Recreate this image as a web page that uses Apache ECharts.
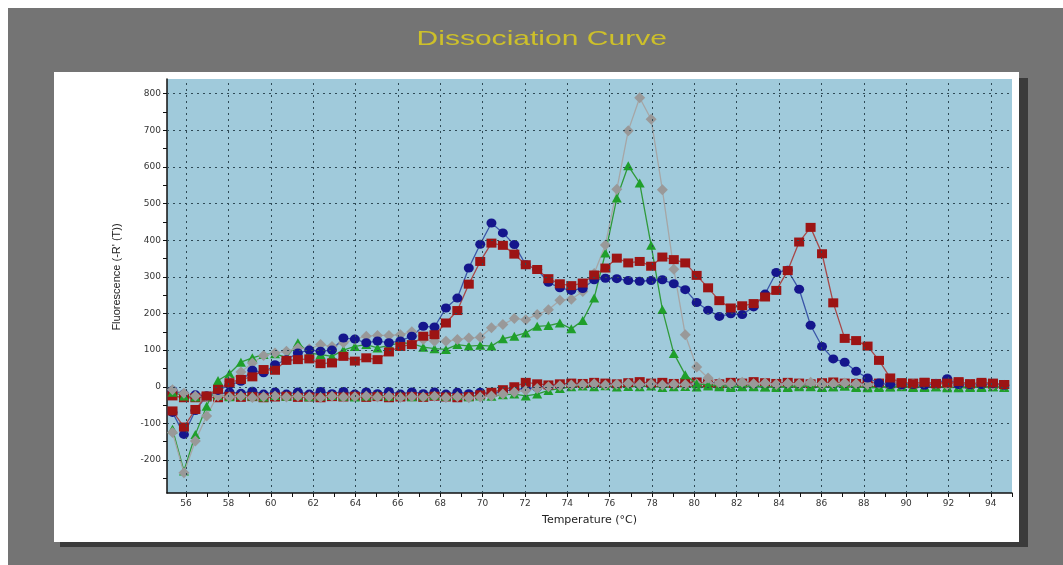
<!DOCTYPE html>
<html>
<head>
<meta charset="utf-8">
<script src="https://cdn.jsdelivr.net/npm/echarts@6/dist/echarts.min.js"></script>
<style>
html,body{margin:0;padding:0;background:#ffffff;}
#chart{width:1063px;height:565px;}
</style>
</head>
<body>
<div id="chart"></div>
<script>
// Temperatures (°C) of each reading
const temps = [55.36,55.90,56.44,56.97,57.51,58.05,58.59,59.13,59.66,60.20,
  60.74,61.28,61.82,62.35,62.89,63.43,63.97,64.51,65.04,65.58,
  66.12,66.66,67.20,67.73,68.27,68.81,69.35,69.89,70.42,70.96,
  71.50,72.04,72.58,73.11,73.65,74.19,74.73,75.27,75.80,76.34,
  76.88,77.42,77.96,78.49,79.03,79.57,80.11,80.65,81.18,81.72,
  82.26,82.80,83.34,83.87,84.41,84.95,85.49,86.03,86.56,87.10,
  87.64,88.18,88.72,89.25,89.79,90.33,90.87,91.41,91.94,92.48,
  93.02,93.56,94.10,94.63];

// Sample curves, -R'(T)
const blueSample = [-70,-130,-65,-25,-10,5,15,45,38,60,
  74,92,100,97,100,133,130,120,125,120,
  125,138,165,163,215,242,324,389,447,420,
  388,333,320,285,270,263,268,292,296,295,
  290,288,290,292,281,265,230,209,192,199,
  197,218,253,312,318,266,168,110,76,67,
  42,24,10,6,5,6,4,8,22,6,
  5,6,8,4];
const redSample = [-66,-110,-62,-25,-7,11,20,27,47,45,
  72,74,76,63,65,83,70,79,74,95,
  110,115,138,142,174,208,280,342,392,386,
  362,333,320,295,281,276,283,305,324,351,
  338,342,329,354,347,338,304,270,235,215,
  221,227,245,263,317,395,435,363,229,132,
  126,111,72,24,10,8,12,8,10,14,
  8,12,10,6];
const greenSample = [-116,-230,-130,-53,17,36,67,79,88,90,
  80,120,92,88,83,100,110,115,106,113,
  120,118,108,104,102,115,111,113,111,131,
  138,147,165,167,174,158,181,242,365,515,
  603,556,386,211,91,33,8,5,3,2,
  0,2,0,-2,0,3,0,-2,0,2,
  0,-3,-2,0,2,0,-2,0,0,-3,
  -2,0,0,-2];
const graySample = [-125,-235,-148,-80,-21,15,40,65,85,92,
  97,106,103,115,110,120,129,138,140,140,
  142,150,129,124,124,129,133,135,161,170,
  186,183,197,210,236,239,260,309,387,539,
  699,789,730,538,321,142,54,24,10,8,
  12,8,10,6,9,8,12,6,8,10,
  8,6,9,8,5,8,6,8,5,7,
  6,8,5,4];

// Flat (baseline) curves
const blueBase = [-10,-20,-22,-25,-20,-15,-18,-12,-20,-14,
  -20,-14,-20,-13,-19,-13,-20,-14,-19,-13,
  -20,-14,-19,-14,-20,-15,-19,-15,-20,-12,
  -8,-5,-2,2,4,6,8,6,9,7,
  10,8,6,9,7,10,8,12,9,7,
  8,6,9,8,10,7,9,8,6,8,
  10,7,9,8,6,8,7,9,10,7,
  6,8,7,5];
const redBase = [-25,-30,-30,-28,-30,-26,-29,-27,-30,-28,
  -26,-29,-28,-30,-27,-28,-26,-29,-27,-30,
  -28,-27,-29,-26,-28,-30,-27,-22,-15,-8,
  0,12,8,5,8,10,9,12,10,8,
  11,14,10,12,9,11,13,10,8,12,
  10,14,11,9,12,10,8,11,13,10,
  9,12,10,8,11,10,12,9,13,10,
  8,9,7,6];
const greenBase = [-15,-25,-28,-26,-24,-27,-23,-25,-28,-24,
  -26,-23,-27,-25,-24,-26,-28,-25,-23,-26,
  -24,-27,-25,-23,-26,-24,-27,-25,-26,-22,
  -20,-25,-20,-10,-5,0,2,0,3,-1,
  1,0,2,-2,0,1,-1,2,0,-2,
  1,0,-1,2,-2,0,1,-1,0,2,
  -2,0,1,-1,0,-2,1,0,-3,-1,
  0,-2,0,-1];
const grayBase = [-8,-18,-25,-28,-25,-28,-26,-29,-27,-25,
  -28,-26,-27,-29,-26,-28,-27,-25,-28,-26,
  -29,-27,-28,-26,-29,-27,-30,-28,-25,-20,
  -15,-10,-5,0,3,5,6,8,5,7,
  9,6,8,5,7,6,8,10,7,5,
  8,6,9,7,8,5,6,8,7,9,
  6,5,8,7,6,8,5,7,6,8,
  5,6,4,3];

// Axis ticks and labels
const xTickLabels = [56,58,60,62,64,66,68,70,72,74,76,78,80,82,84,86,88,90,92,94];
const xTicks = [56,57,58,59,60,61,62,63,64,65,66,67,68,69,70,71,72,73,74,75,
  76,77,78,79,80,81,82,83,84,85,86,87,88,89,90,91,92,93,94,95];
const yTickLabels = [-200,-100,0,100,200,300,400,500,600,700,800];
const yTicks = [-250,-200,-150,-100,-50,0,50,100,150,200,250,300,350,400,
  450,500,550,600,650,700,750,800];

const pairs = arr => temps.map((t, i) => [t, arr[i]]);

const styles = {
  blue:  {sym:'circle',   size:[10,9],  mark:'#15168c', line:'#3a56a8'},
  red:   {sym:'rect',     size:[10,9],  mark:'#9c1414', line:'#a84848'},
  green: {sym:'triangle', size:[10,9],  mark:'#1f9f2b', line:'#2f9a3a'},
  gray:  {sym:'diamond',  size:[11,11], mark:'#999999', line:'#a6a6a6'}
};

function mkSeries(name, arr, st, z) {
  return {
    name: name, type: 'line', data: pairs(arr), z: z,
    symbol: st.sym, symbolSize: st.size, showAllSymbol: true,
    itemStyle: {color: st.mark},
    lineStyle: {color: st.line, width: 1.3},
    emphasis: {disabled: true}, animation: false
  };
}

const chart = echarts.init(document.getElementById('chart'), null, {renderer: 'canvas'});
chart.setOption({
  animation: false,
  backgroundColor: '#ffffff',
  graphic: [
    {type:'rect', z:-30, shape:{x:8, y:8, width:1055, height:557}, style:{fill:'#747474'}, silent:true},
    {type:'rect', z:-29, shape:{x:60, y:78, width:968, height:469}, style:{fill:'#3b3b3b'}, silent:true},
    {type:'rect', z:-28, shape:{x:54, y:72, width:965, height:470}, style:{fill:'#ffffff'}, silent:true},
    {type:'text', z:50, x:541.7, y:39.5, scaleX:1.43,
      style:{text:'Dissociation Curve', font:'21px "Liberation Sans", Arial, sans-serif', fill:'#cdc02a', align:'center', verticalAlign:'middle'}},
    {type:'text', z:50, x:117, y:277, rotation:Math.PI/2,
      style:{text:"Fluorescence (-R' (T))", font:'11px "Liberation Sans", Arial, sans-serif', fill:'#222222', align:'center', verticalAlign:'middle'}}
  ],
  grid: {left:167, right:51, top:79, bottom:72, show:true, backgroundColor:'#a0cadb', borderWidth:0},
  xAxis: {
    type:'value', min:55.1, max:95,
    name:'Temperature (°C)', nameLocation:'middle', nameGap:22,
    nameTextStyle:{fontFamily:'DejaVu Sans', fontSize:11, color:'#222'},
    axisLine:{show:true, onZero:false, lineStyle:{color:'#111', width:1.5}},
    axisTick:{show:true, customValues:xTicks, length:4, lineStyle:{color:'#111'}},
    axisLabel:{customValues:xTickLabels, margin:6, fontFamily:'DejaVu Sans', fontSize:9, color:'#333'},
    splitLine:{show:false}
  },
  yAxis: {
    type:'value', min:-290, max:840,
    axisLine:{show:true, onZero:false, lineStyle:{color:'#111', width:1.5}},
    axisTick:{show:true, customValues:yTicks, length:4, lineStyle:{color:'#111'}},
    axisLabel:{customValues:yTickLabels, margin:6, fontFamily:'DejaVu Sans', fontSize:9, color:'#333'},
    splitLine:{show:false}
  },
  series: [
    {type:'line', data:[], z:1, silent:true,
      markLine:{silent:true, symbol:['none','none'], label:{show:false}, animation:false,
        lineStyle:{color:'#2f4a56', type:[2,4], width:1},
        emphasis:{disabled:true},
        data: yTickLabels.map(v => ({yAxis:v})).concat(xTickLabels.map(v => ({xAxis:v})))}},
    mkSeries('Blue baseline', blueBase, styles.blue, 2),
    mkSeries('Red baseline', redBase, styles.red, 2),
    mkSeries('Green baseline', greenBase, styles.green, 2),
    mkSeries('Gray baseline', grayBase, styles.gray, 2),
    mkSeries('Green', greenSample, styles.green, 3),
    mkSeries('Gray', graySample, styles.gray, 3),
    mkSeries('Blue', blueSample, styles.blue, 3),
    mkSeries('Red', redSample, styles.red, 3)
  ]
});
</script>
</body>
</html>
